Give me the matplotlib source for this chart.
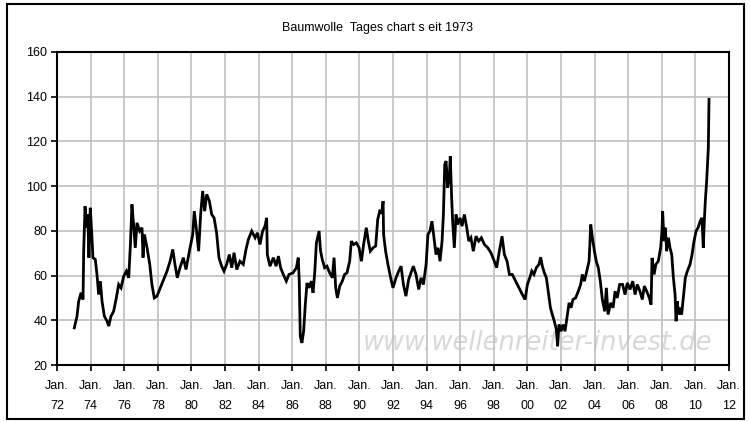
import matplotlib

matplotlib.use("Agg")
import matplotlib.pyplot as plt
from matplotlib.patches import Rectangle

# cotton price (decimal year, price)
years = [
    1973.03, 1973.19, 1973.29, 1973.43, 1973.55, 1973.59, 1973.67, 1973.75, 1973.83, 1973.90,
    1973.98, 1974.06, 1974.14, 1974.28, 1974.38, 1974.48, 1974.58, 1974.68, 1974.82, 1974.98,
    1975.08, 1975.21, 1975.37, 1975.53, 1975.67, 1975.81, 1975.97, 1976.13, 1976.27, 1976.37,
    1976.46, 1976.56, 1976.66, 1976.76, 1976.92, 1977.06, 1977.12, 1977.20, 1977.36, 1977.52,
    1977.65, 1977.79, 1977.95, 1978.15, 1978.35, 1978.55, 1978.73, 1978.89, 1979.02, 1979.16,
    1979.32, 1979.52, 1979.68, 1979.88, 1980.08, 1980.17, 1980.31, 1980.43, 1980.55, 1980.67,
    1980.79, 1980.91, 1981.07, 1981.21, 1981.35, 1981.50, 1981.64, 1981.80, 1981.94, 1982.10,
    1982.26, 1982.40, 1982.54, 1982.70, 1982.89, 1983.09, 1983.25, 1983.39, 1983.59, 1983.79,
    1983.93, 1984.08, 1984.24, 1984.38, 1984.48, 1984.52, 1984.68, 1984.88, 1985.04, 1985.18,
    1985.31, 1985.47, 1985.65, 1985.81, 1986.05, 1986.25, 1986.36, 1986.42, 1986.48, 1986.58,
    1986.68, 1986.78, 1986.88, 1987.00, 1987.14, 1987.24, 1987.34, 1987.44, 1987.60, 1987.69,
    1987.79, 1987.93, 1988.07, 1988.23, 1988.39, 1988.49, 1988.59, 1988.69, 1988.83, 1988.98,
    1989.12, 1989.26, 1989.42, 1989.52, 1989.66, 1989.82, 1989.98, 1990.12, 1990.25, 1990.41,
    1990.53, 1990.65, 1990.81, 1990.97, 1991.09, 1991.21, 1991.33, 1991.41, 1991.44, 1991.56,
    1991.70, 1991.84, 1992.00, 1992.18, 1992.34, 1992.48, 1992.62, 1992.77, 1992.93, 1993.07,
    1993.21, 1993.37, 1993.53, 1993.67, 1993.81, 1993.97, 1994.08, 1994.20, 1994.32, 1994.44,
    1994.56, 1994.68, 1994.80, 1994.92, 1995.00, 1995.08, 1995.16, 1995.25, 1995.35, 1995.41,
    1995.49, 1995.55, 1995.65, 1995.75, 1995.85, 1995.99, 1996.11, 1996.25, 1996.39, 1996.51,
    1996.64, 1996.78, 1996.94, 1997.10, 1997.26, 1997.44, 1997.64, 1997.83, 1998.03, 1998.17,
    1998.33, 1998.49, 1998.63, 1998.79, 1998.93, 1999.10, 1999.30, 1999.50, 1999.70, 1999.86,
    2000.00, 2000.14, 2000.26, 2000.39, 2000.53, 2000.69, 2000.79, 2000.89, 2001.01, 2001.13,
    2001.25, 2001.37, 2001.48, 2001.60, 2001.72, 2001.80, 2001.88, 2002.00, 2002.12, 2002.24,
    2002.38, 2002.48, 2002.60, 2002.71, 2002.87, 2003.03, 2003.17, 2003.27, 2003.39, 2003.51,
    2003.67, 2003.77, 2003.87, 2003.99, 2004.10, 2004.22, 2004.34, 2004.46, 2004.60, 2004.70,
    2004.80, 2004.96, 2005.10, 2005.22, 2005.35, 2005.49, 2005.67, 2005.81, 2005.95, 2006.11,
    2006.27, 2006.41, 2006.54, 2006.70, 2006.84, 2006.96, 2007.10, 2007.26, 2007.36, 2007.42,
    2007.54, 2007.65, 2007.79, 2007.93, 2008.01, 2008.05, 2008.13, 2008.21, 2008.29, 2008.39,
    2008.49, 2008.59, 2008.69, 2008.79, 2008.85, 2008.92, 2009.00, 2009.08, 2009.18, 2009.28,
    2009.40, 2009.52, 2009.68, 2009.80, 2009.92, 2010.04, 2010.16, 2010.28, 2010.39, 2010.47,
    2010.53, 2010.59, 2010.67, 2010.73, 2010.77, 2010.81,
]
prices = [
    36.6, 41.8, 48.5, 52.3, 49.3, 71.7, 91.0, 81.4, 87.3, 68.0,
    90.3, 80.0, 68.0, 67.2, 60.5, 51.5, 57.5, 48.5, 41.8, 39.6,
    37.4, 41.8, 44.0, 50.0, 56.0, 54.5, 59.7, 62.0, 59.0, 73.9,
    91.8, 82.8, 72.4, 83.6, 79.9, 81.4, 68.0, 78.4, 72.4, 65.0,
    56.0, 50.0, 50.8, 54.5, 58.2, 62.0, 66.4, 71.7, 65.0, 59.0,
    63.5, 68.0, 62.7, 70.9, 78.4, 88.8, 79.9, 70.9, 87.3, 97.8,
    88.8, 96.3, 93.3, 87.3, 85.8, 79.1, 68.0, 64.2, 62.0, 65.0,
    69.4, 63.5, 70.2, 62.7, 66.4, 65.0, 71.7, 76.1, 79.9, 76.9,
    79.1, 73.9, 79.9, 82.1, 85.8, 69.4, 64.2, 68.0, 64.2, 68.7,
    63.5, 60.5, 57.5, 60.5, 61.2, 63.5, 68.0, 57.5, 32.9, 29.9,
    35.1, 47.0, 56.7, 54.5, 57.5, 52.3, 61.2, 74.6, 79.9, 70.9,
    67.2, 63.5, 64.2, 61.2, 59.0, 68.0, 54.5, 50.0, 55.3, 57.5,
    60.5, 61.2, 66.4, 75.4, 73.9, 74.6, 72.4, 66.4, 73.9, 81.4,
    75.4, 70.9, 72.4, 73.2, 85.1, 88.8, 88.1, 93.3, 78.4, 70.9,
    65.0, 59.7, 54.5, 59.0, 62.0, 64.2, 56.0, 50.8, 58.2, 61.2,
    64.2, 60.5, 53.8, 59.0, 56.0, 65.0, 78.4, 79.9, 84.3, 76.9,
    69.4, 72.4, 66.4, 75.4, 87.3, 109.7, 111.2, 99.3, 103.7, 113.4,
    94.8, 84.3, 72.4, 87.3, 82.8, 85.8, 82.1, 87.3, 81.4, 75.4,
    76.9, 70.9, 77.6, 75.4, 76.9, 73.9, 72.4, 70.2, 66.4, 63.5,
    70.9, 77.6, 69.4, 66.4, 60.5, 60.5, 57.5, 54.5, 51.5, 49.3,
    56.0, 59.0, 62.0, 60.5, 63.5, 65.0, 68.2, 64.2, 61.2, 59.0,
    52.3, 45.6, 42.6, 39.6, 35.9, 28.4, 38.1, 35.1, 38.1, 35.1,
    42.6, 47.8, 45.6, 49.3, 50.0, 53.0, 56.0, 60.5, 57.5, 61.2,
    66.4, 82.8, 76.9, 70.9, 66.4, 63.5, 57.5, 49.3, 44.0, 54.5,
    42.6, 47.8, 45.6, 53.0, 50.0, 56.0, 56.0, 51.5, 56.7, 53.8,
    57.5, 51.5, 56.0, 53.0, 49.3, 55.3, 53.0, 50.0, 47.0, 67.9,
    60.5, 65.0, 66.4, 72.4, 79.9, 88.8, 75.4, 81.4, 70.9, 76.9,
    72.4, 69.4, 59.0, 51.5, 39.6, 48.5, 42.6, 45.6, 42.6, 50.0,
    59.0, 62.0, 65.0, 69.4, 75.4, 79.9, 81.4, 84.3, 85.8, 72.4,
    84.3, 93.3, 102.2, 111.2, 117.2, 138.8,
]

tick_years = list(range(1972, 2013, 2))
tick_labels = ["Jan.\n%02d" % (y % 100) for y in tick_years]
y_ticks = list(range(20, 161, 20))

plt.rcParams["font.family"] = ["Liberation Sans", "DejaVu Sans"]

fig = plt.figure(figsize=(7.5, 4.22), dpi=100, facecolor="white")
ax = fig.add_axes([0.076, 0.135, 0.896, 0.742])

# outer frame round the whole chart
fig.patches.append(Rectangle((0.0095, 0.007), 0.983, 0.984, transform=fig.transFigure,
                             fill=False, edgecolor="black", linewidth=1.5))

ax.plot(years, prices, color="black", linewidth=2.0, solid_joinstyle="miter")

ax.set_xlim(1972, 2012)
ax.set_ylim(20, 160)
ax.set_xticks(tick_years)
ax.set_xticklabels(tick_labels, linespacing=1.9)
ax.set_yticks(y_ticks)
ax.grid(True, color="#c4c4c4", linewidth=1.3)
ax.set_axisbelow(True)
for sp in ax.spines.values():
    sp.set_color("black")
    sp.set_linewidth(1.5)
ax.tick_params(direction="out", length=4, width=1.2, labelsize=9, pad=3)
ax.tick_params(axis="x", pad=7)

ax.text(0.455, 0.07, "www.wellenreiter-invest.de", transform=ax.transAxes,
        fontsize=18.5, style="italic", color="#d8d8d8", family="DejaVu Sans",
        ha="left", va="center", zorder=0)

fig.text(0.503, 0.933, "Baumwolle  Tages chart s eit 1973", ha="center", va="center",
         fontsize=9)

fig.savefig("out.png", dpi=100, facecolor="white")
